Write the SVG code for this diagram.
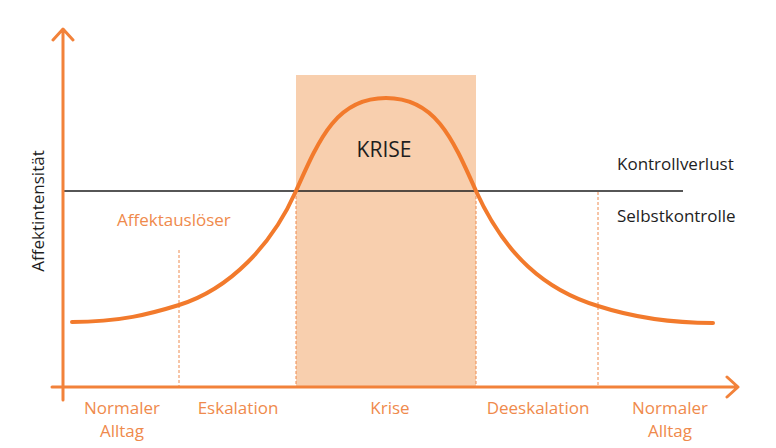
<svg xmlns="http://www.w3.org/2000/svg" width="776" height="448" viewBox="0 0 776 448">
<style>
.ax{stroke:#f2823a;stroke-width:3;fill:none;stroke-linecap:round;stroke-linejoin:round}
.dot{stroke:#ee8a4e;stroke-width:1;stroke-dasharray:3 2;fill:none}
.or{fill:#ef8a4c;font-family:"Open Sans","Liberation Sans",sans-serif;font-size:17px}
.bk{fill:#1e1e1e;font-family:"Open Sans","Liberation Sans",sans-serif;font-size:17px}
</style>
<rect width="776" height="448" fill="#ffffff"/>
<g id="krise-zone">
<rect x="296" y="75" width="180" height="312" fill="#f8cfae"/>
<text class="bk" x="384" y="157" text-anchor="middle" style="font-size:21px">KRISE</text>
</g>
<g id="connectors">
<line class="dot" x1="179" y1="250" x2="179" y2="386"/>
<line class="dot" x1="296" y1="191" x2="296" y2="386"/>
<line class="dot" x1="476" y1="191" x2="476" y2="386"/>
<line class="dot" x1="598" y1="192" x2="598" y2="386"/>
<line x1="63" y1="191" x2="683" y2="191" stroke="#1e1e1e" stroke-width="1.5"/>
<path class="ax" d="M63,400 V30 M53,40 L63,29 L73,40"/>
<path class="ax" d="M52,387 H737 M727,377 L738,387 L727,397"/>
<path d="M72,322 C120,322 150,314 179,305 C230,289 272,245 296,191 C320,137 337,98 386,98 C435,98 452,137 476,191 C505,255 545,290 598,306 C635,318 670,323 713,323" fill="none" stroke="#f27a2c" stroke-width="4" stroke-linecap="round"/>
</g>
<g id="labels">
<text class="bk" x="617" y="170">Kontrollverlust</text>
<text class="bk" x="617" y="222">Selbstkontrolle</text>
<text class="or" x="117" y="226">Affektauslöser</text>
<text class="bk" transform="translate(44,211) rotate(-90)" text-anchor="middle">Affektintensität</text>
</g>
<g id="phases">
<text class="or" x="122" y="414" text-anchor="middle">Normaler</text>
<text class="or" x="122" y="437" text-anchor="middle">Alltag</text>
<text class="or" x="238" y="414" text-anchor="middle">Eskalation</text>
<text class="or" x="390" y="414" text-anchor="middle">Krise</text>
<text class="or" x="538" y="414" text-anchor="middle">Deeskalation</text>
<text class="or" x="670" y="414" text-anchor="middle">Normaler</text>
<text class="or" x="670" y="437" text-anchor="middle">Alltag</text>
</g>
</svg>
